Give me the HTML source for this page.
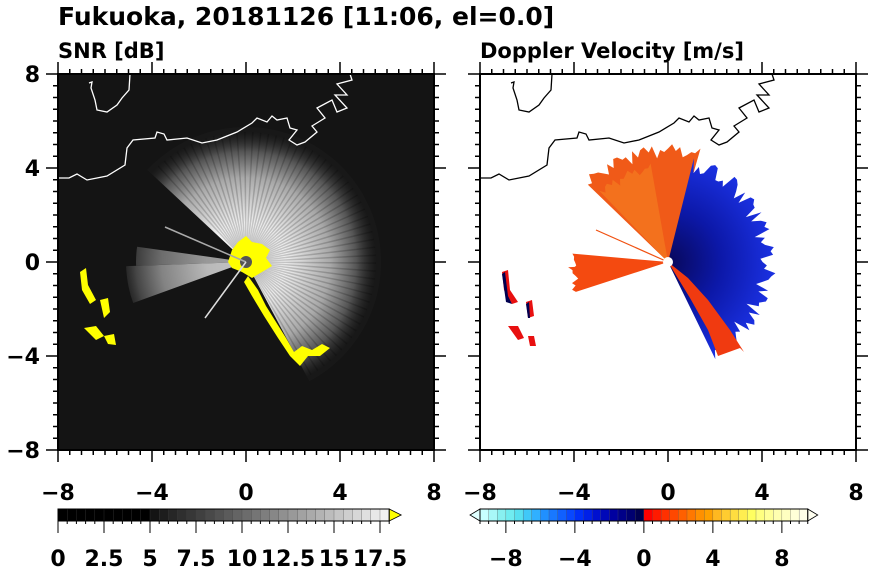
<!DOCTYPE html>
<html><head><meta charset="utf-8"><style>
html,body{margin:0;padding:0;background:#fff;width:870px;height:570px;overflow:hidden}
svg{display:block}
text{font-family:"DejaVu Sans","Liberation Sans",sans-serif;font-weight:bold;fill:#000}
</style></head><body>
<svg id="s" width="870" height="570" xmlns="http://www.w3.org/2000/svg">
<defs>
<radialGradient id="fan" cx="246" cy="262" r="130" gradientUnits="userSpaceOnUse">
<stop offset="0" stop-color="#fff"/><stop offset="0.3" stop-color="#f0f0f0"/><stop offset="0.65" stop-color="#a8a8a8"/><stop offset="0.85" stop-color="#555"/><stop offset="1" stop-color="#222" stop-opacity="0.3"/>
</radialGradient>
<radialGradient id="bl" cx="668" cy="262" r="105" gradientUnits="userSpaceOnUse">
<stop offset="0" stop-color="#08085a"/><stop offset="0.5" stop-color="#0c18a8"/><stop offset="1" stop-color="#1a30e0"/>
</radialGradient>
</defs>
<text x="58" y="25" font-size="25">Fukuoka, 20181126 [11:06, el=0.0]</text>
<text x="58" y="58" font-size="21">SNR [dB]</text>
<text x="480" y="58" font-size="21">Doppler Velocity [m/s]</text>
<rect x="58" y="74" width="376" height="376" fill="#141414"/>
<g id="g"></g>
</svg>
<script>
const s=document.getElementById('g');let h='';
function P(cx,cy,r,a1,a2,jit){
 let p=`M${cx},${cy}`;const n=Math.max(2,Math.ceil((a2-a1)/2));
 for(let k=0;k<=n;k++){const a=a1+(a2-a1)*k/n;const t=a*Math.PI/180;const rr=r*(jit?(1-jit*Math.abs(Math.sin(k*2.7)*Math.sin(k*1.3))):1);p+=` L${(cx+rr*Math.cos(t)).toFixed(1)},${(cy-rr*Math.sin(t)).toFixed(1)}`;}return p+'Z';}
// left fan
h+=`<path d="${P(246,262,135,-62,137)}" fill="url(#fan)"/>`;
h+=`<path d="${P(246,262,120,182,200)}" fill="url(#fan)" opacity="0.75"/>`;
h+=`<path d="${P(246,262,110,172,182)}" fill="url(#fan)" opacity="0.6"/>`;
for(let a=-60;a<136;a+=3.5){const t=a*Math.PI/180;h+=`<line x1="246" y1="262" x2="${246+130*Math.cos(t)}" y2="${262-130*Math.sin(t)}" stroke="#000" stroke-opacity="0.18" stroke-width="1.5"/>`;}
// yellow core
h+=`<path d="M228,262 L232,250 L238,242 L246,236 L252,242 L262,244 L270,250 L266,258 L272,266 L262,272 L252,278 L242,272 L232,268 Z" fill="#ff0"/>`;
h+=`<path d="M248,276 L258,290 L266,306 L276,322 L286,338 L294,352 L302,346 L312,350 L322,344 L330,348 L320,356 L308,356 L300,366 L290,356 L278,338 L264,316 L252,296 L244,282 Z" fill="#ff0"/>`;
h+=`<path d="M80,272 L86,268 L88,285 L96,300 L90,304 L82,290 Z M100,300 L108,298 L110,312 L104,318 Z M84,328 L96,326 L104,336 L96,340 Z M104,336 L114,334 L116,345 L108,344 Z" fill="#ff0"/>`;
h+=`<circle cx="246" cy="262" r="6" fill="#555"/>`;
h+=`<line x1="246" y1="262" x2="165" y2="227" stroke="#aaa" stroke-width="1.5"/><line x1="246" y1="262" x2="205" y2="318" stroke="#ddd" stroke-width="1.5"/>`;
// right panel
h+=`<rect x="480" y="74" width="376" height="376" fill="#fff"/>`;
h+=`<path d="${P(668,262,118,74,136,0.12)}" fill="#f05a18"/>`;
h+=`<path d="${P(668,262,100,100,134,0.1)}" fill="#f47a20" opacity="0.7"/>`;
h+=`<path d="${P(668,262,108,-64,76,0.18)}" fill="url(#bl)"/>`;
h+=`<path d="M668,262 L690,298 L708,330 L718,356 L740,348 L744,352 L730,330 L708,300 L688,278 Z" fill="#f03a10"/>`;
h+=`<path d="${P(668,262,100,183,198,0.1)}" fill="#f44a10"/>`;
h+=`<path d="${P(668,262,96,175,184,0.05)}" fill="#f44a10"/>`;
h+=`<line x1="668" y1="262" x2="596" y2="230" stroke="#f05010" stroke-width="1.2"/>`;
h+=`<circle cx="668" cy="262" r="5" fill="#fff"/>`;
h+=`<path d="M502,272 L508,270 L510,290 L518,302 L512,304 L504,290 Z M526,302 L532,300 L534,316 L528,318 Z M508,326 L518,326 L524,338 L518,340 Z M528,336 L534,336 L536,346 L530,346 Z" fill="#e81010"/>`;
h+=`<path d="M502,274 L505,272 L508,296 L512,304 L506,302 Z M526,304 L529,302 L530,318 L528,318 Z" fill="#000050"/>`;
// coastlines
const C=[[0,178],[11,178],[19,174],[29,180],[49,176],[67,165],[69,148],[75,140],[97,138],[99,132],[106,134],[109,140],[129,138],[144,143],[159,140],[179,132],[194,123],[199,118],[209,122],[214,116],[219,120],[229,118],[232,128],[239,130],[231,140],[239,145],[247,142],[259,132],[254,126],[267,118],[259,108],[274,100],[279,112],[289,108],[277,95],[289,95],[279,84],[294,80],[292,74]];
const I=[[31,83],[34,82],[33,88],[37,100],[39,110],[49,112],[59,105],[64,98],[71,90],[72,74]];
function pl(a,ox,c){return `<polyline points="${a.map(p=>(p[0]+ox)+','+p[1]).join(' ')}" fill="none" stroke="${c}" stroke-width="1.3"/>`;}
h+=pl(C,58,'#fff')+pl(I,58,'#fff')+pl(C,480,'#000')+pl(I,480,'#000');
// frames & ticks
function ax(x0){let r=`<rect x="${x0}" y="74" width="376" height="376" fill="none" stroke="#000" stroke-width="2"/>`;
 for(let i=0;i<=32;i++){const d=i*11.75,L=(i%8==0)?12:5;
  r+=`<line x1="${x0+d}" y1="74" x2="${x0+d}" y2="${74-L}" stroke="#000" stroke-width="1.5"/>`;
  r+=`<line x1="${x0+d}" y1="450" x2="${x0+d}" y2="${450+L}" stroke="#000" stroke-width="1.5"/>`;
  r+=`<line x1="${x0}" y1="${74+d}" x2="${x0-L}" y2="${74+d}" stroke="#000" stroke-width="1.5"/>`;
  r+=`<line x1="${x0+376}" y1="${74+d}" x2="${x0+376+L}" y2="${74+d}" stroke="#000" stroke-width="1.5"/>`;}
 const lb=['\u22128','\u22124','0','4','8'];
 for(let i=0;i<5;i++){r+=`<text x="${x0+i*94}" y="500" font-size="22" text-anchor="middle">${lb[i]}</text>`;}
 return r;}
h+=ax(58)+ax(480);
const yl=['8','4','0','\u22124','\u22128'];
for(let i=0;i<5;i++)h+=`<text x="40" y="${82+i*94}" font-size="22" text-anchor="end">${yl[i]}</text>`;
// left colorbar
const bw=18.4/2;
for(let i=0;i<36;i++){const v=i*0.5;let g=v<5?0:Math.round((v-5)/13*230+20);g=Math.min(g,245);
 h+=`<rect x="${58+i*bw}" y="509" width="${bw+0.3}" height="12" fill="rgb(${g},${g},${g})" stroke="#444" stroke-width="0.3"/>`;}
h+=`<polygon points="${58+36*bw},509 ${58+36*bw+12},515 ${58+36*bw},521" fill="#ff0" stroke="#000" stroke-width="0.8"/>`;
h+=`<rect x="58" y="509" width="${36*bw}" height="12" fill="none" stroke="#000" stroke-width="1"/>`;
for(let i=0;i<=36;i++){const L=(i%5==0)?16:7;h+=`<line x1="${58+i*bw}" y1="521" x2="${58+i*bw}" y2="${521+L-4}" stroke="#000" stroke-width="1"/>`;}
const ll=['0','2.5','5','7.5','10','12.5','15','17.5'];
for(let i=0;i<8;i++)h+=`<text x="${58+i*46}" y="566" font-size="22" text-anchor="middle">${ll[i]}</text>`;
// right colorbar
const rc=['#c8ffff','#a8f8f8','#88f0f0','#70ecf0','#58e0f0','#40c8f8','#30b0ff','#2090ff','#1878ff','#1060ff','#0848ff','#0030f8','#0020e8','#0010d0','#0008b8','#0000a0','#000088','#000070','#000050',
'#ff0000','#ff1a00','#ff3000','#ff4800','#ff6000','#ff7800','#ff9000','#ffa000','#ffb820','#ffcc30','#ffdd40','#ffee50','#ffff60','#ffff80','#ffff98','#ffffb0','#ffffc0','#ffffd8','#ffffe8'];
const rw=17.25/2;const rx=480;
for(let i=0;i<38;i++)h+=`<rect x="${rx+i*rw}" y="509" width="${rw+0.3}" height="12" fill="${rc[i]}" stroke="#555" stroke-width="0.3"/>`;
h+=`<polygon points="${rx},509 ${rx-10},515 ${rx},521" fill="#e0ffff" stroke="#000" stroke-width="0.8"/>`;
h+=`<polygon points="${rx+38*rw},509 ${rx+38*rw+10},515 ${rx+38*rw},521" fill="#fffff0" stroke="#000" stroke-width="0.8"/>`;
h+=`<rect x="${rx}" y="509" width="${38*rw}" height="12" fill="none" stroke="#000" stroke-width="1"/>`;
for(let i=0;i<=38;i++){const v=-9.5+i*0.5;const L=(Math.abs(v)%4==0)?16:7;h+=`<line x1="${rx+i*rw}" y1="521" x2="${rx+i*rw}" y2="${521+L-4}" stroke="#000" stroke-width="1"/>`;}
const rl=['\u22128','\u22124','0','4','8'];
for(let i=0;i<5;i++)h+=`<text x="${rx+(1.5+i*4)*17.25}" y="566" font-size="22" text-anchor="middle">${rl[i]}</text>`;
s.innerHTML=h;
</script>
</body></html>
